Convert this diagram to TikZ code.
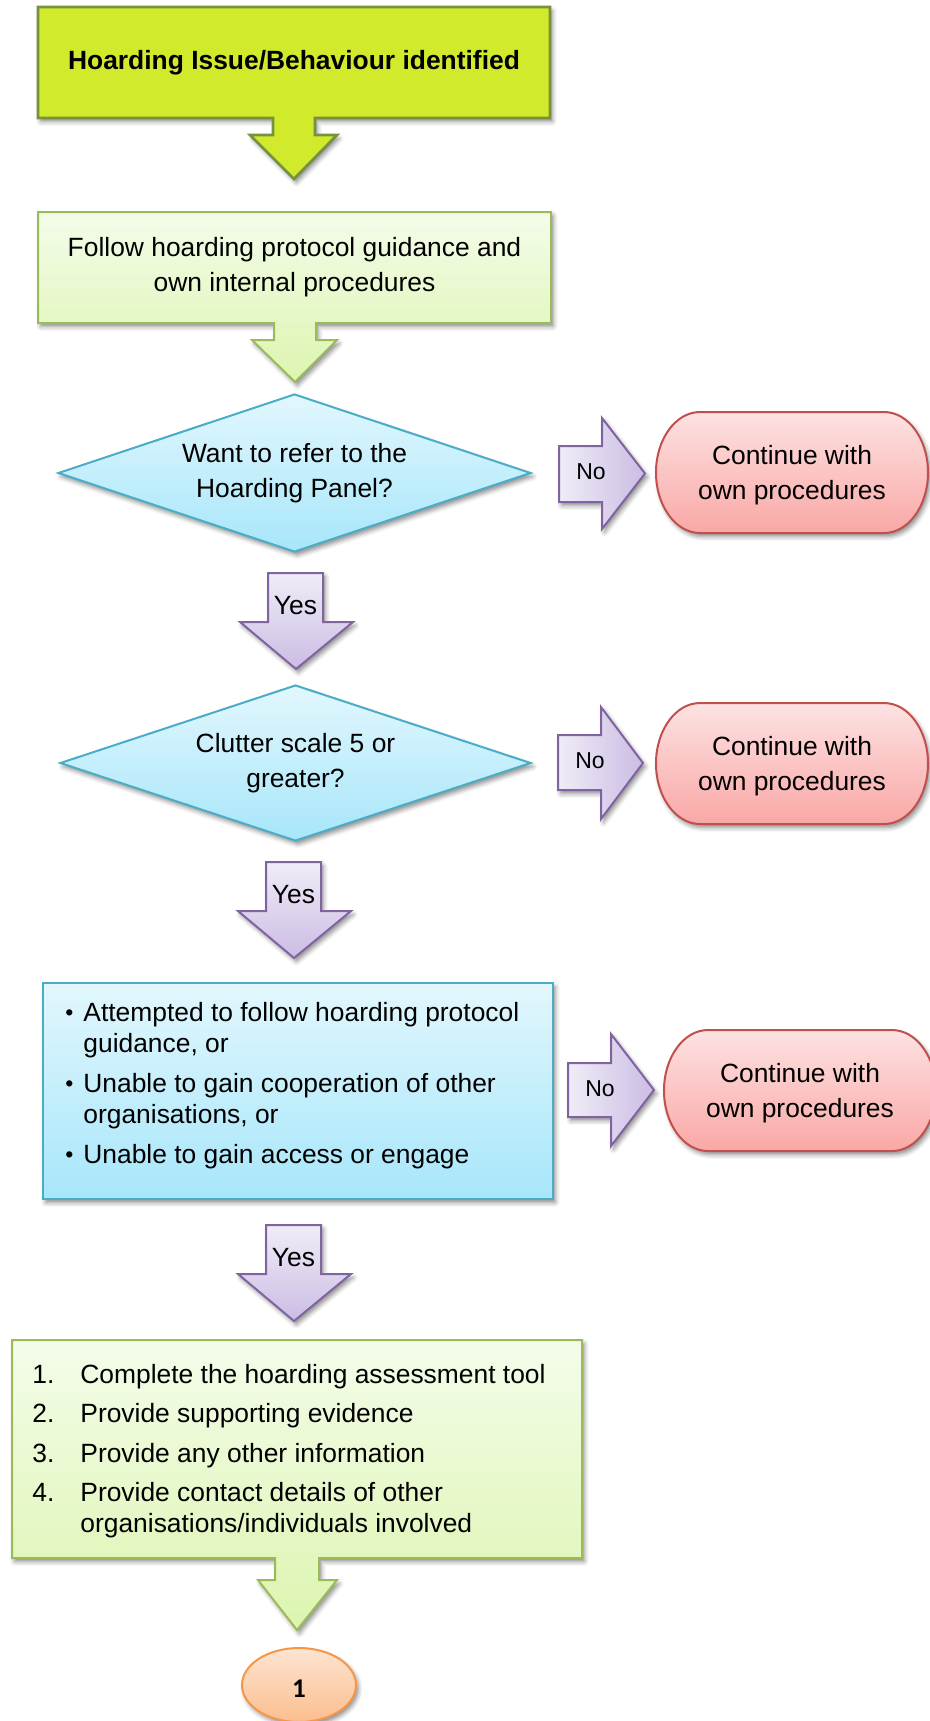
\documentclass[tikz,border=0pt]{standalone}
\usepackage{fontspec}
\setmainfont{Liberation Sans}
\newfontfamily\calfont{Carlito}
\usetikzlibrary{shapes.geometric,shadows.blur}
\definecolor{limefill}{RGB}{210,234,44}
\definecolor{limedraw}{RGB}{118,146,60}
\definecolor{grtop}{RGB}{244,252,234}
\definecolor{grbot}{RGB}{220,245,175}
\definecolor{grdraw}{RGB}{155,187,89}
\definecolor{cytop}{RGB}{226,247,253}
\definecolor{cybot}{RGB}{167,230,250}
\definecolor{cydraw}{RGB}{75,172,198}
\definecolor{pulight}{RGB}{240,236,247}
\definecolor{pudark}{RGB}{203,188,228}
\definecolor{pudraw}{RGB}{128,100,162}
\definecolor{pktop}{RGB}{253,226,226}
\definecolor{pkbot}{RGB}{249,168,166}
\definecolor{pkdraw}{RGB}{192,80,77}
\definecolor{ortop}{RGB}{253,228,210}
\definecolor{orbot}{RGB}{251,190,142}
\definecolor{ordraw}{RGB}{247,150,70}
\newcommand{\smbul}{\raisebox{0.3pt}{\fontsize{11.5}{11.5}\selectfont\textbullet}}
\tikzset{
 shd/.style={blur shadow={shadow xshift=1.2pt,shadow yshift=-1.8pt,shadow blur radius=2.2pt,shadow opacity=45}},
 limebox/.style={fill=limefill,draw=limedraw,line width=1.4pt},
 greenbox/.style={top color=grtop,bottom color=grbot,draw=grdraw,line width=1pt},
 cyanbox/.style={top color=cytop,bottom color=cybot,draw=cydraw,line width=1pt},
 purph/.style={left color=pulight,right color=pudark,draw=pudraw,line width=1pt},
 purpv/.style={top color=pulight,bottom color=pudark,draw=pudraw,line width=1pt},
 pinkbox/.style={top color=pktop,bottom color=pkbot,draw=pkdraw,line width=1pt},
 orbox/.style={top color=ortop,bottom color=orbot,draw=ordraw,line width=1pt},
 txt/.style={inner sep=0pt,align=center,font=\fontsize{13.2}{17.5}\selectfont},
 notxt/.style={inner sep=0pt,font=\fontsize{11.5}{13}\selectfont},
 listtxt/.style={inner sep=0pt,anchor=base west,font=\fontsize{13.2}{15.5}\selectfont},
}
\begin{document}
\begin{tikzpicture}[x=0.5pt,y=-0.5pt]
\useasboundingbox (0,0) rectangle (930,1721);

% Box 1 callout
\draw[limebox,shd] (38,7) -- (550,7) -- (550,118) -- (315,118) -- (315,135) -- (337,135) -- (294,179) -- (250,135) -- (273,135) -- (273,118) -- (38,118) -- cycle;
\node[txt,font=\fontsize{13.2}{17.5}\selectfont\bfseries] (b1) at (294,63) {Hoarding Issue/Behaviour identified};

% Box 2 callout
\draw[greenbox,shd] (38,212) -- (551,212) -- (551,323) -- (316,323) -- (316,340) -- (337,340) -- (295,382) -- (252,340) -- (274,340) -- (274,323) -- (38,323) -- cycle;
\node[txt] (b2) at (294.5,267) {Follow hoarding protocol guidance and\\own internal procedures};

% Decision 1
\node[diamond,aspect=3,cyanbox,shd,inner sep=0pt,minimum width=236.5pt,minimum height=79pt,align=center,font=\fontsize{13.2}{17.5}\selectfont] (d1) at (294.5,473) {Want to refer to the\\Hoarding Panel?};
\draw[purph,shd] (559,446) -- (602,446) -- (602,418) -- (645,473.5) -- (602,529) -- (602,502) -- (559,502) -- cycle;
\node[notxt] (no1) at (591,471.5) {No};
\draw[pinkbox,shd] (700,412) -- (884,412) arc[start angle=90,end angle=-90,x radius=22pt,y radius=30.25pt] -- (700,533) arc[start angle=270,end angle=90,x radius=22pt,y radius=30.25pt] -- cycle;
\node[txt] (t1) at (792,475) {Continue with\\own procedures};

% Yes 1
\draw[purpv,shd] (268,573) -- (323,573) -- (323,622) -- (353,622) -- (296,669) -- (240,622) -- (268,622) -- cycle;
\node[txt] (y1) at (295.5,605.5) {Yes};

% Decision 2
\node[diamond,aspect=3,cyanbox,shd,inner sep=0pt,minimum width=235.5pt,minimum height=78pt,align=center,font=\fontsize{13.2}{17.5}\selectfont] (d2) at (295.5,763) {Clutter scale 5 or\\greater?};
\draw[purph,shd] (558,735) -- (601,735) -- (601,707) -- (643,763) -- (601,819) -- (601,790) -- (558,790) -- cycle;
\node[notxt] (no2) at (590,761) {No};
\draw[pinkbox,shd] (700,703) -- (884,703) arc[start angle=90,end angle=-90,x radius=22pt,y radius=30.25pt] -- (700,824) arc[start angle=270,end angle=90,x radius=22pt,y radius=30.25pt] -- cycle;
\node[txt] (t2) at (792,766) {Continue with\\own procedures};

% Yes 2
\draw[purpv,shd] (266,862) -- (321,862) -- (321,911) -- (351,911) -- (294,958) -- (238,911) -- (266,911) -- cycle;
\node[txt] (y2) at (293.5,894.5) {Yes};

% Box 3
\node[rectangle,cyanbox,shd,minimum width=255pt,minimum height=108pt,inner sep=0pt] (b3) at (298,1091) {};
\node[listtxt] (b3t) at (65,1021) {\begin{tabular}[t]{@{}p{9pt}@{}l@{}}
\smbul & Attempted to follow hoarding protocol\\
 & guidance, or\\[4.5pt]
\smbul & Unable to gain cooperation of other\\
 & organisations, or\\[4.5pt]
\smbul & Unable to gain access or engage
\end{tabular}};
\draw[purph,shd] (568,1063) -- (611,1063) -- (611,1034) -- (654,1090) -- (611,1146) -- (611,1117) -- (568,1117) -- cycle;
\node[notxt] (no3) at (600,1088.5) {No};
\draw[pinkbox,shd] (708,1030) -- (892,1030) arc[start angle=90,end angle=-90,x radius=22pt,y radius=30.25pt] -- (708,1151) arc[start angle=270,end angle=90,x radius=22pt,y radius=30.25pt] -- cycle;
\node[txt] (t3) at (800,1093) {Continue with\\own procedures};

% Yes 3
\draw[purpv,shd] (266,1225) -- (321,1225) -- (321,1274) -- (351,1274) -- (294,1321) -- (238,1274) -- (266,1274) -- cycle;
\node[txt] (y3) at (293.5,1257.5) {Yes};

% Box 4 callout
\draw[greenbox,shd] (12,1340) -- (582,1340) -- (582,1558) -- (319,1558) -- (319,1580) -- (337,1580) -- (297,1630) -- (258,1580) -- (275,1580) -- (275,1558) -- (12,1558) -- cycle;
\node[listtxt] (b4t) at (32,1383) {\begin{tabular}[t]{@{}p{24pt}@{}l@{}}
1. & Complete the hoarding assessment tool\\[4.3pt]
2. & Provide supporting evidence\\[4.3pt]
3. & Provide any other information\\[4.3pt]
4. & Provide contact details of other\\
 & organisations/individuals involved
\end{tabular}};

% Connector circle
\node[ellipse,orbox,shd,minimum width=57pt,minimum height=37pt,inner sep=0pt] (c1) at (299,1685) {};
\node[inner sep=0pt,font=\calfont\bfseries\fontsize{13.5}{14}\selectfont] (c1t) at (299,1688.5) {1};
\end{tikzpicture}
\end{document}
